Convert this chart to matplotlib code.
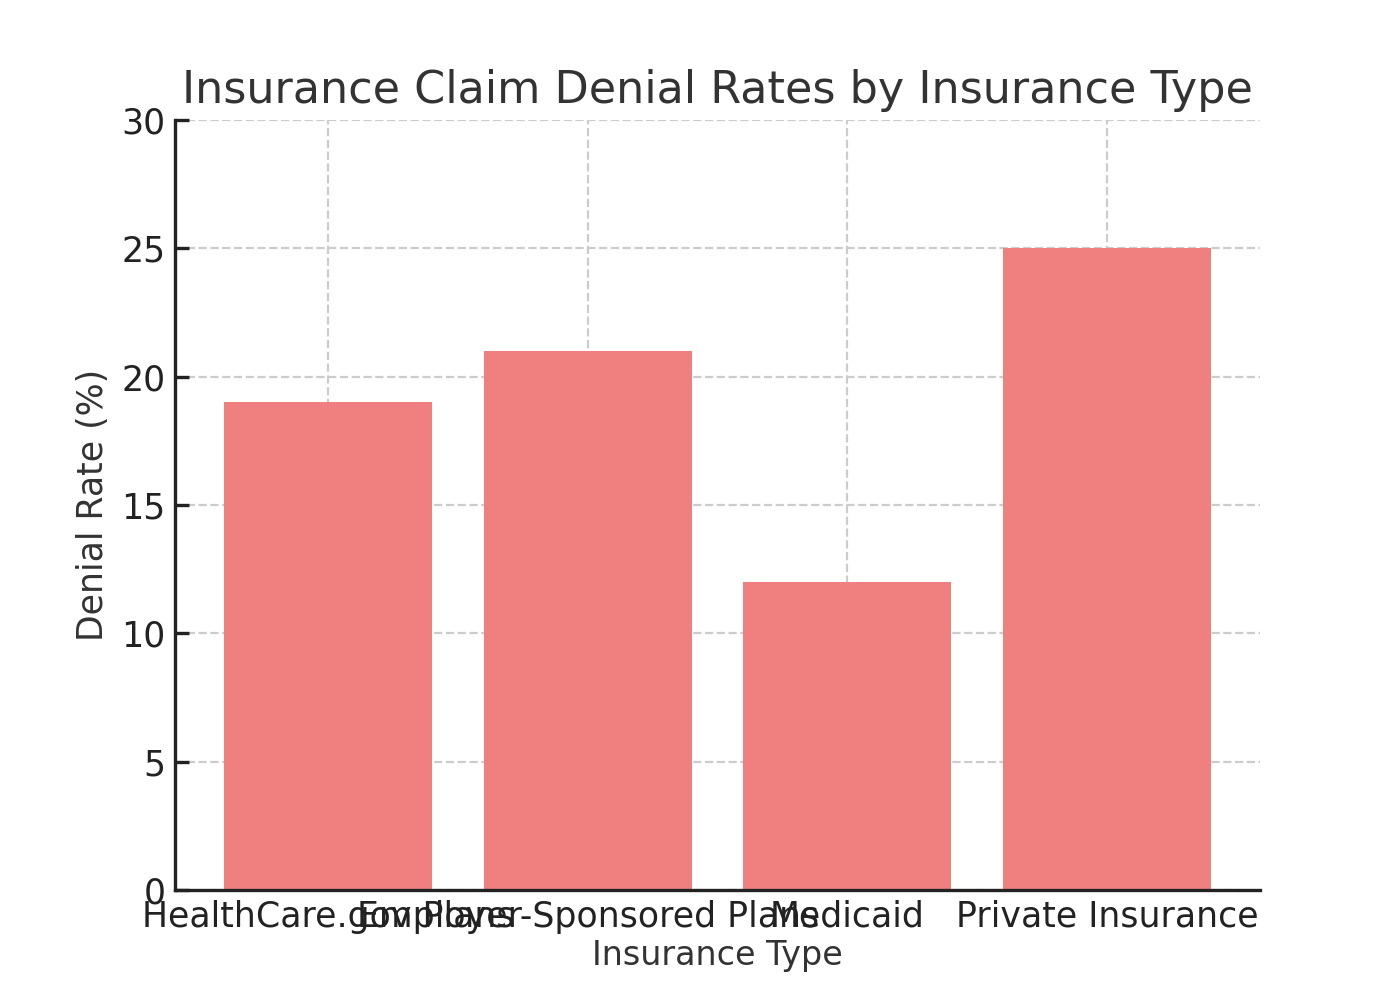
import matplotlib
matplotlib.use("Agg")
import matplotlib.pyplot as plt

categories = ["HealthCare.gov Plans", "Employer-Sponsored Plans", "Medicaid", "Private Insurance"]
denial_rates = [19, 21, 12, 25]

fig, ax = plt.subplots(figsize=(7, 5), dpi=200)
ax.bar(categories, denial_rates, color="lightcoral", zorder=2)
ax.set_ylim(0, 30)
ax.set_title("Insurance Claim Denial Rates by Insurance Type", fontsize=16, color="#333333")
ax.set_xlabel("Insurance Type", fontsize=12, color="#333333", labelpad=2)
ax.set_ylabel("Denial Rate (%)", fontsize=12.5, color="#333333")
ax.tick_params(labelsize=12.5, colors="#222222", direction="in", length=5, width=1.2)
ax.grid(True, linestyle="--", color="#cccccc", linewidth=0.8, zorder=0)
for s in ("left", "bottom"):
    ax.spines[s].set_linewidth(1.2)
    ax.spines[s].set_color("#222222")
ax.spines["top"].set_visible(False)
ax.spines["right"].set_visible(False)
fig.savefig("out.png")
